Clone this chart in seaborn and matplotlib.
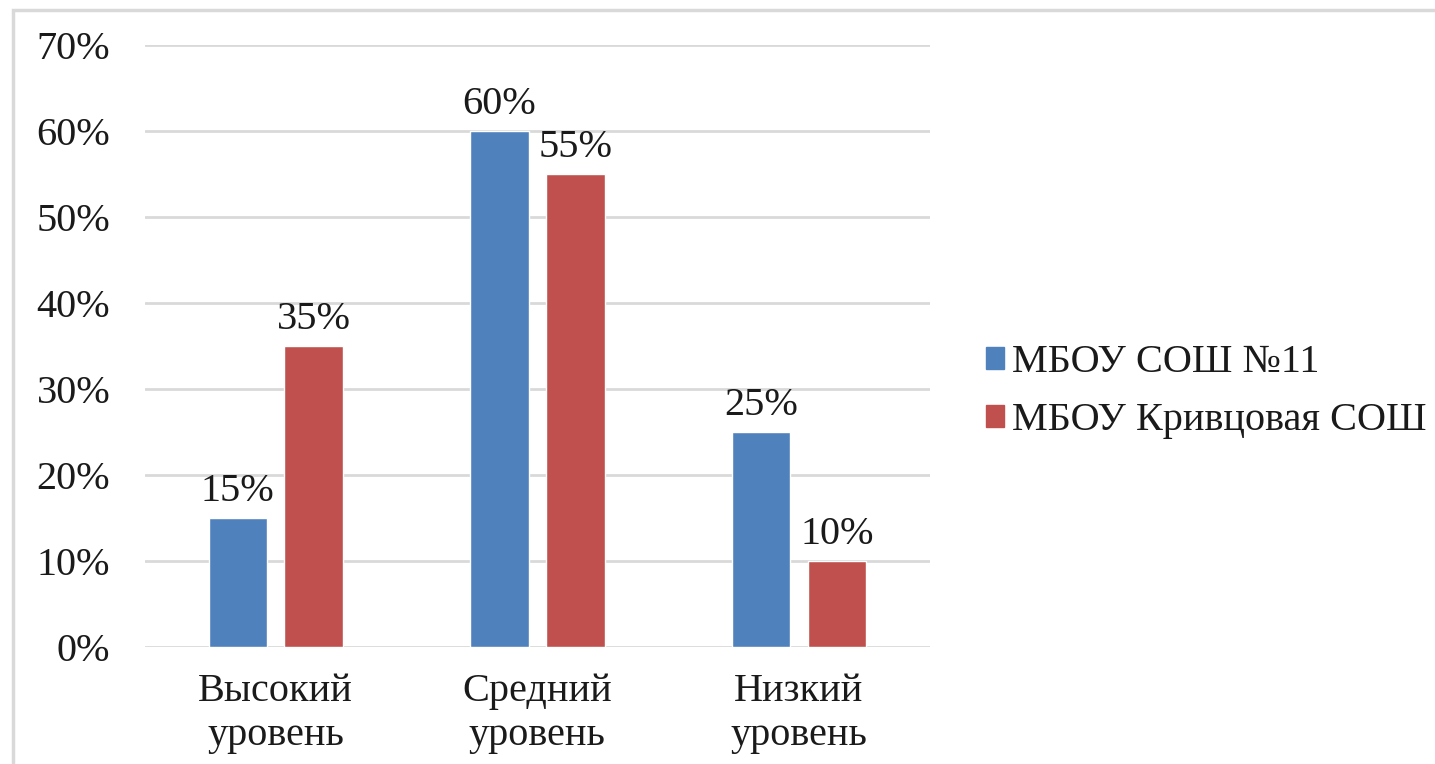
import matplotlib
matplotlib.use('Agg')
import matplotlib.pyplot as plt
import seaborn as sns
import pandas as pd
from matplotlib.patches import Rectangle
from matplotlib.ticker import PercentFormatter

categories = ["Высокий\nуровень", "Средний\nуровень", "Низкий\nуровень"]
schools = ["МБОУ СОШ №11", "МБОУ Кривцовая СОШ"]
school11 = [15, 60, 25]
krivtsovo = [35, 55, 10]
yticks = [0, 10, 20, 30, 40, 50, 60, 70]

df = pd.DataFrame({
    "cat": categories * 2,
    "school": [schools[0]] * 3 + [schools[1]] * 3,
    "value": school11 + krivtsovo,
})

sns.set_style("white")
plt.rcParams['font.family'] = ['Liberation Serif', 'DejaVu Serif']
FS = 29
TXT = "#1a1a1a"

fig = plt.figure(figsize=(14.35, 7.64), dpi=100)
ax = fig.add_axes([0.101, 0.153, 0.547, 0.788])
sns.barplot(data=df, x="cat", y="value", hue="school", ax=ax,
            palette=["#4F81BD", "#C0504D"], width=0.58, gap=0.23,
            saturation=1, legend=False)

for cont in ax.containers:
    ax.bar_label(cont, labels=[f"{v:.0f}%" for v in cont.datavalues],
                 padding=6, fontsize=FS, color=TXT)

ax.set_ylim(0, 70)
ax.set_xlim(-0.5, 2.5)
ax.set_yticks(yticks)
ax.yaxis.set_major_formatter(PercentFormatter(decimals=0))
ax.yaxis.grid(True, color="#D9D9D9", linewidth=2)
ax.set_axisbelow(True)
for s in ax.spines.values():
    s.set_visible(False)
ax.tick_params(axis='both', length=0, labelsize=FS, colors=TXT)
ax.tick_params(axis='y', pad=25)
ax.tick_params(axis='x', pad=19)
for lbl in ax.get_xticklabels():
    lbl.set_linespacing(1.25)
ax.set_xlabel("")
ax.set_ylabel("")

handles = [Rectangle((0, 0), 1, 1, color=c) for c in ["#4F81BD", "#C0504D"]]
fig.legend(handles, schools, loc="center left", bbox_to_anchor=(0.687, 0.487),
           frameon=False, fontsize=FS, handlelength=0.45, handleheight=0.45,
           handletextpad=0.2, labelspacing=0.52, labelcolor=TXT,
           borderpad=0, borderaxespad=0)

fig.patches.append(Rectangle((13 / 1435, -0.01), 1.0, 1 - 10 / 764 + 0.01,
                             transform=fig.transFigure, fill=False,
                             edgecolor="#D9D9D9", linewidth=2.5))

fig.savefig("out.png", dpi=100)
